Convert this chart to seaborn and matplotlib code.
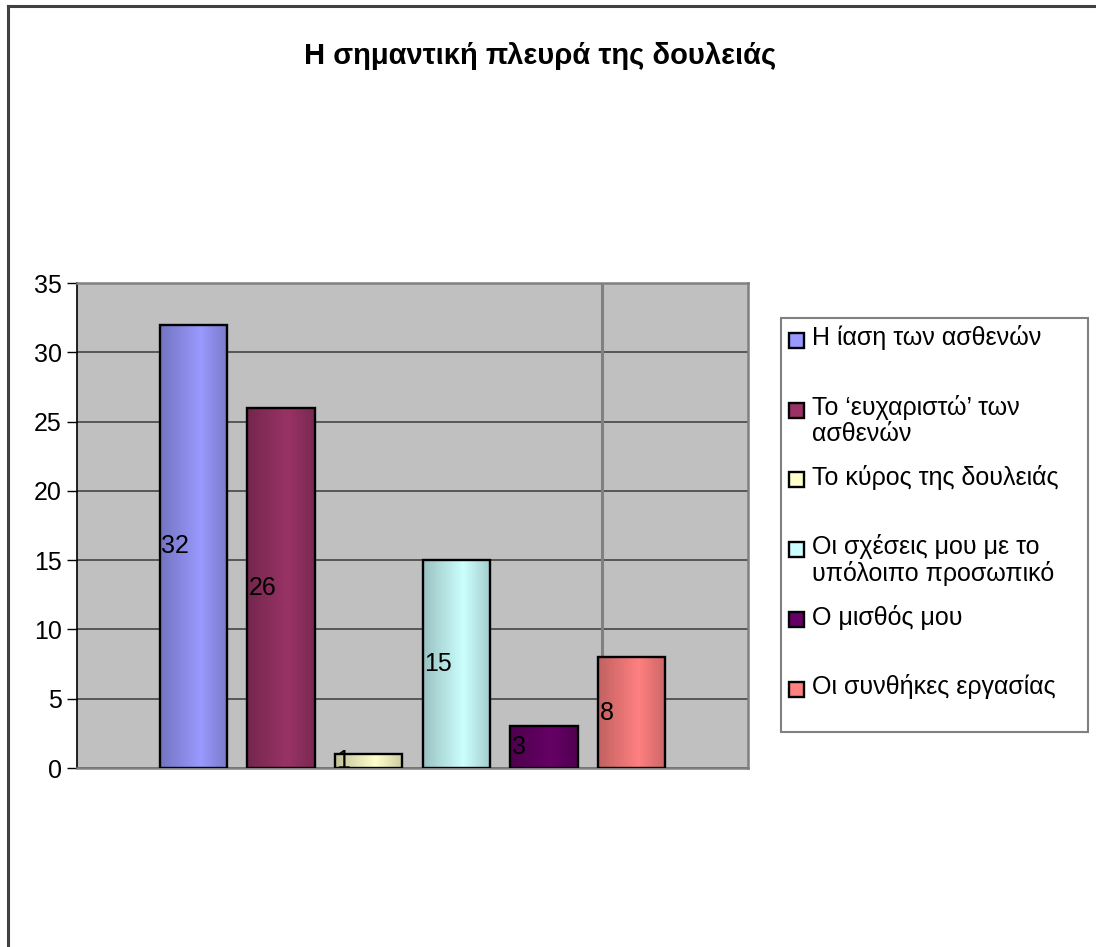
import numpy as np
import pandas as pd
import matplotlib

matplotlib.use('Agg')

import matplotlib.pyplot as plt
import seaborn as sns
from matplotlib.patches import Patch, Rectangle
from matplotlib.legend_handler import HandlerPatch
from matplotlib.colors import to_rgb
from matplotlib.lines import Line2D

# ============================================================
# Data
# ============================================================

title = 'Η σημαντική πλευρά της δουλειάς'

series = [
    'Η ίαση των ασθενών',
    'Το ‘ευχαριστώ’ των\nασθενών',
    'Το κύρος της δουλειάς',
    'Οι σχέσεις μου με το\nυπόλοιπο προσωπικό',
    'Ο μισθός μου',
    'Οι συνθήκες εργασίας',
]

values = [32, 26, 1, 15, 3, 8]

colors = ['#9999FF', '#993366', '#FFFFCC', '#CCFFFF', '#660066', '#FF8080']

yticks = [0, 5, 10, 15, 20, 25, 30, 35]

df = pd.DataFrame({
    'group': [''] * len(series),
    'series': series,
    'value': values,
})

# ============================================================
# Figure
# ============================================================

plt.rcParams['font.family'] = ['Liberation Sans', 'DejaVu Sans']

FS = 18

W, H = 1096, 947
fig = plt.figure(figsize=(W / 100, H / 100), dpi=100)
fig.patch.set_facecolor('white')

ax = fig.add_axes([77 / W, 1 - 768 / H, (748 - 77) / W, (768 - 283) / H])
ax.set_facecolor('#C0C0C0')

sns.barplot(
    data=df,
    x='group',
    y='value',
    hue='series',
    hue_order=series,
    palette=colors,
    width=0.784,
    gap=0.235,
    edgecolor='black',
    linewidth=1.7,
    legend=False,
    ax=ax,
)

# gradient fill on every bar
t = np.linspace(0, 1, 64)
shade = np.interp(t, [0, 0.6, 1], [0.76, 1.0, 0.80])

for cont, col in zip(ax.containers, colors):
    rgb = np.array(to_rgb(col))
    grad = np.clip(shade[:, None] * rgb[None, :], 0, 1)[None, :, :]
    for p in cont.patches:
        x0, y0 = p.get_x(), p.get_y()
        w, h = p.get_width(), p.get_height()
        ax.imshow(grad, extent=[x0, x0 + w, y0, y0 + h],
                  aspect='auto', zorder=2.5, interpolation='bilinear')
        p.set_facecolor('none')
        p.set_zorder(3)
        ax.text(x0 + 0.002, y0 + h / 2, f'{int(h)}',
                ha='left', va='center', fontsize=FS, zorder=4)

ax.set_xlim(-0.5, 0.5)
ax.set_ylim(0, 35)

# gridlines and frame
ax.set_yticks(yticks)
ax.yaxis.grid(True, color='#3a3a3a', linewidth=1.1)
ax.set_axisbelow(True)
ax.axvline(0.2824, color='#808080', linewidth=2.2, zorder=1)

ax.set_xticks([])
ax.set_xlabel('')
ax.set_ylabel('')
ax.tick_params(axis='y', length=7, width=1, pad=4, labelsize=FS, colors='black')

for side in ['top', 'right', 'bottom']:
    ax.spines[side].set_color('#808080')
    ax.spines[side].set_linewidth(1.8)
ax.spines['left'].set_color('black')
ax.spines['left'].set_linewidth(1.2)

# title
fig.text(540 / W, 1 - 56 / H, title, ha='center', va='center',
         fontsize=21, fontweight='bold')

# ============================================================
# Legend
# ============================================================

def top_square(legend, orig_handle, xdescent, ydescent, width, height, fontsize):
    sq = 0.6 * fontsize
    return Rectangle((-xdescent, -ydescent + height - sq - 0.0 * fontsize), sq, sq)

handles = [Patch(facecolor=c, edgecolor='black', linewidth=1.7) for c in colors]
labels = [s if '\n' in s else s + '\n' for s in series]

leg = ax.legend(
    handles,
    labels,
    loc='upper left',
    bbox_to_anchor=(781 / W, 1 - 733 / H, 307 / W, 415 / H),
    bbox_transform=fig.transFigure,
    mode='expand',
    borderaxespad=0,
    fontsize=FS,
    frameon=True,
    fancybox=False,
    handlelength=0.6,
    handleheight=2.0,
    handletextpad=0.35,
    labelspacing=0.76,
    borderpad=0.3,
    handler_map={Patch: HandlerPatch(patch_func=top_square)},
)
for txt in leg.get_texts():
    txt.set_linespacing(1.08)
leg.get_frame().set_edgecolor('#606060')
leg.get_frame().set_linewidth(1.5)

# outer chart border
fig.add_artist(Line2D([8 / W, 8 / W], [-0.1, 1 - 6.5 / H], color='#404040',
                      linewidth=2.2, transform=fig.transFigure))
fig.add_artist(Line2D([8 / W, 1.1], [1 - 6.5 / H, 1 - 6.5 / H], color='#404040',
                      linewidth=2.2, transform=fig.transFigure))

fig.savefig('out.png', dpi=100)
